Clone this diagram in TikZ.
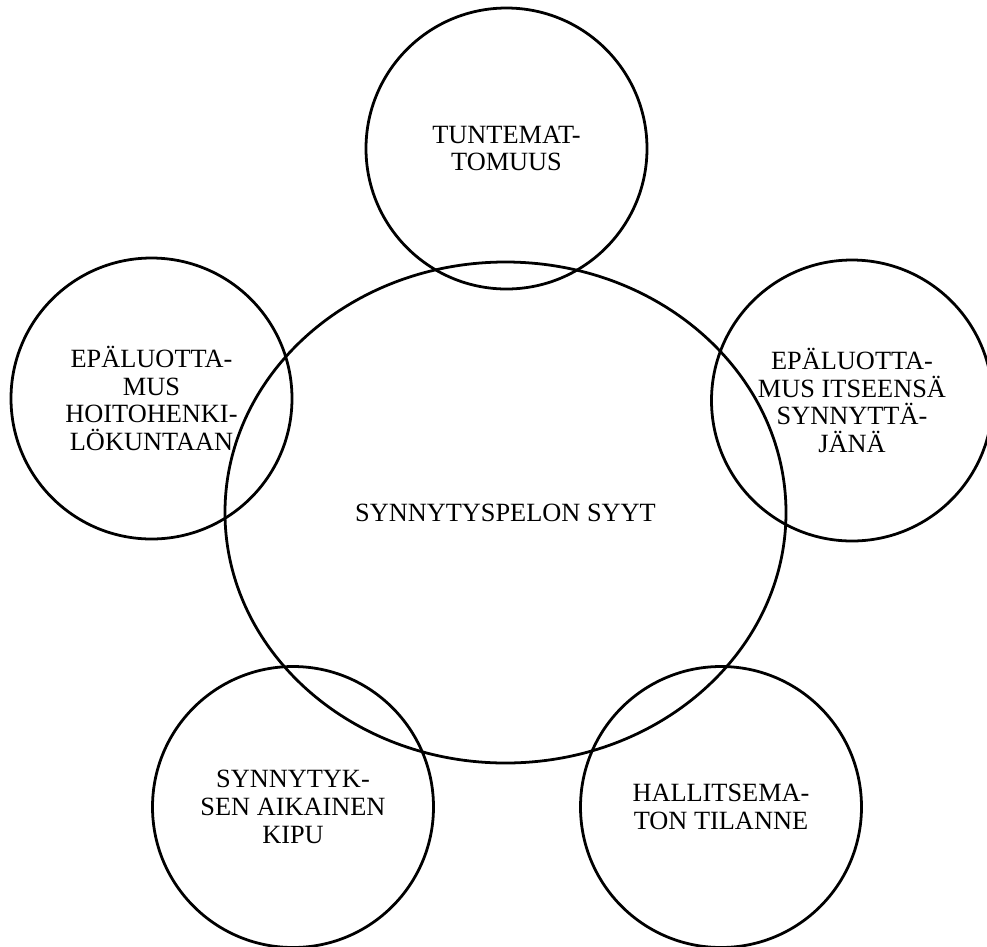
\documentclass[tikz,border=0pt]{standalone}
\usepackage{fontspec}
\setmainfont{Liberation Serif}
\usetikzlibrary{shapes.geometric}

\begin{document}
\begin{tikzpicture}[x=0.45pt, y=-0.45pt,
            inner sep=0pt,
            line width=1.25pt,
            every node/.style={draw, align=center, font=\fontsize{11.85}{12.5}\selectfont},
            cause/.style = {circle, minimum size=126.45pt},
            core/.style = {ellipse, minimum width=252.45pt, minimum height=225.45pt},
            ]
            \useasboundingbox (0,0) rectangle (987,946);

            \node[core] (syyt) at (505.5,512.5) {SYNNYTYSPELON SYYT};

            \node[cause] (tuntemattomuus) at (506.5,148.5) {TUNTEMAT-\\TOMUUS};
            \node[cause] (hoitohenkilokunta) at (151.5,398.5) {EPÄLUOTTA-\\MUS\\HOITOHENKI-\\LÖKUNTAAN};
            \node[cause] (itseensa) at (852,400.5) {EPÄLUOTTA-\\MUS ITSEENSÄ\\SYNNYTTÄ-\\JÄNÄ};
            \node[cause] (kipu) at (293,807) {SYNNYTYK-\\SEN AIKAINEN\\KIPU};
            \node[cause] (tilanne) at (721,807) {HALLITSEMA-\\TON TILANNE};
        \end{tikzpicture}
\end{document}
